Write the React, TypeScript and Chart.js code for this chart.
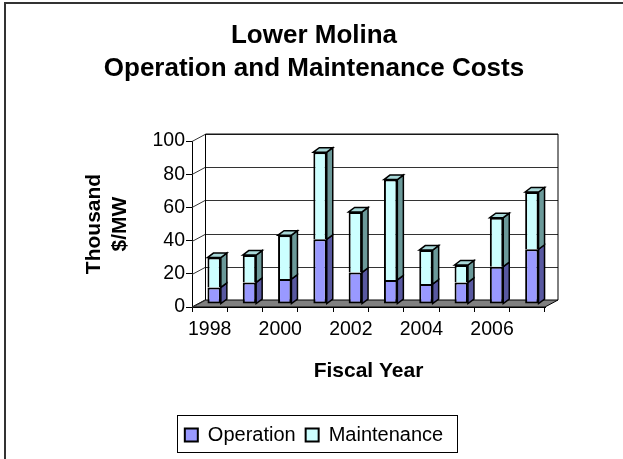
import React, { useEffect, useRef } from 'react';
import { Chart, registerables } from 'chart.js';

Chart.register(...registerables);

// ---- data ----
const years = ['1998', '1999', '2000', '2001', '2002', '2003', '2004', '2005', '2006', '2007'];
const operation = [10, 13, 15, 39, 19, 14.5, 12, 13, 22.5, 33];
const maintenance = [18, 16.5, 26.5, 52.5, 36.5, 60.5, 20.5, 10.5, 29.5, 34.5];
const titleLines = ['Lower Molina', 'Operation and Maintenance Costs'];
const yTitleLines = ['Thousand', '$/MW'];
const xTitle = 'Fiscal Year';
const seriesNames = ['Operation', 'Maintenance'];

// ---- styles ----
const FONT = '"Liberation Sans", Arial, sans-serif';
const WALL = { dx: 13, dy: -7 };
const BAR_SHIFT = { dx: 4.5, dy: -3 };
const BAR_DEPTH = { dx: 6, dy: -4.5 };
const FRONT = ['#9999FF', '#CCFFFF'];
const SIDE = ['#5858A0', '#6B9999'];
const TOP = ['#7777CC', '#A8D8D8'];

const threeD = {
  id: 'threeD',
  beforeDatasetsDraw(chart: any) {
    const { ctx, chartArea: a, scales } = chart;
    const y = scales.y;
    const top = y.getPixelForValue(y.max);
    const bot = y.getPixelForValue(0);
    ctx.save();
    // floor
    ctx.beginPath();
    ctx.moveTo(a.left, bot);
    ctx.lineTo(a.right, bot);
    ctx.lineTo(a.right + WALL.dx, bot + WALL.dy);
    ctx.lineTo(a.left + WALL.dx, bot + WALL.dy);
    ctx.closePath();
    ctx.fillStyle = '#808080';
    ctx.fill();
    ctx.strokeStyle = '#000';
    ctx.lineWidth = 1;
    ctx.stroke();
    // gridlines on side wall and back wall
    ctx.strokeStyle = '#333';
    ctx.lineWidth = 1;
    y.ticks.forEach((t: any) => {
      const py = Math.round(y.getPixelForValue(t.value)) + 0.5;
      ctx.beginPath();
      ctx.moveTo(a.left, py);
      ctx.lineTo(a.left + WALL.dx, py + WALL.dy);
      if (t.value !== 0) ctx.lineTo(a.right + WALL.dx, py + WALL.dy);
      ctx.stroke();
    });
    // back wall edges
    ctx.strokeStyle = '#000';
    ctx.beginPath();
    ctx.moveTo(a.left + WALL.dx + 0.5, bot + WALL.dy);
    ctx.lineTo(a.left + WALL.dx + 0.5, top + WALL.dy);
    ctx.lineTo(a.right + WALL.dx, top + WALL.dy);
    ctx.lineTo(a.right + WALL.dx, bot + WALL.dy);
    ctx.stroke();
    ctx.restore();

    // 3D faces of bars
    ctx.save();
    ctx.translate(BAR_SHIFT.dx, BAR_SHIFT.dy);
    const n = chart.data.datasets.length;
    for (let d = 0; d < n; d++) {
      const meta = chart.getDatasetMeta(d);
      meta.data.forEach((bar: any) => {
        const p = bar.getProps(['x', 'y', 'base', 'width'], true);
        const l = p.x - p.width / 2;
        const r = p.x + p.width / 2;
        const t = Math.min(p.y, p.base);
        const b = Math.max(p.y, p.base);
        ctx.lineWidth = 1.5;
        ctx.strokeStyle = '#000';
        ctx.beginPath();
        ctx.moveTo(r, t);
        ctx.lineTo(r + BAR_DEPTH.dx, t + BAR_DEPTH.dy);
        ctx.lineTo(r + BAR_DEPTH.dx, b + BAR_DEPTH.dy);
        ctx.lineTo(r, b);
        ctx.closePath();
        ctx.fillStyle = SIDE[d];
        ctx.fill();
        ctx.stroke();
        if (d === n - 1) {
          ctx.beginPath();
          ctx.moveTo(l, t);
          ctx.lineTo(l + BAR_DEPTH.dx, t + BAR_DEPTH.dy);
          ctx.lineTo(r + BAR_DEPTH.dx, t + BAR_DEPTH.dy);
          ctx.lineTo(r, t);
          ctx.closePath();
          ctx.fillStyle = TOP[d];
          ctx.fill();
          ctx.stroke();
        }
      });
    }
    // keep translation for the front faces drawn by Chart.js
  },
  afterDatasetsDraw(chart: any) {
    chart.ctx.restore();
  },
  afterDraw(chart: any) {
    const { ctx, legend } = chart;
    ctx.save();
    // legend frame
    if (legend && legend.legendHitBoxes && legend.legendHitBoxes.length) {
      const hb = legend.legendHitBoxes;
      const l = Math.min(...hb.map((h: any) => h.left));
      const r = Math.max(...hb.map((h: any) => h.left + h.width));
      const t = Math.min(...hb.map((h: any) => h.top));
      const b = Math.max(...hb.map((h: any) => h.top + h.height));
      ctx.strokeStyle = '#000';
      ctx.lineWidth = 1;
      ctx.strokeRect(Math.round(l - 8) + 0.5, Math.round(t - 10) + 0.5, Math.round(r - l + 22), Math.round(b - t + 17));
    }
    // chart frame
    ctx.strokeStyle = '#333';
    ctx.lineWidth = 2;
    ctx.strokeRect(5, 3, 1000, 1000);
    ctx.restore();
  },
};

export default function App() {
  const ref = useRef<HTMLCanvasElement | null>(null);
  useEffect(() => {
    if (!ref.current) return;
    const chart = new Chart(ref.current, {
      type: 'bar',
      data: {
        labels: years,
        datasets: [
          {
            label: seriesNames[0],
            data: operation,
            backgroundColor: FRONT[0],
            borderColor: '#000',
            borderWidth: 2,
            borderSkipped: false,
            barPercentage: 0.38,
            categoryPercentage: 1,
            clip: false as any,
          },
          {
            label: seriesNames[1],
            data: maintenance,
            backgroundColor: FRONT[1],
            borderColor: '#000',
            borderWidth: 2,
            borderSkipped: 'start',
            barPercentage: 0.38,
            categoryPercentage: 1,
            clip: false as any,
          },
        ],
      },
      options: {
        animation: false,
        responsive: false,
        maintainAspectRatio: false,
        devicePixelRatio: 1,
        layout: { padding: { top: 0, bottom: 4, left: 5, right: 0 } },
        plugins: {
          title: {
            display: true,
            text: titleLines,
            color: '#000',
            font: { family: FONT, size: 26, weight: 'bold', lineHeight: 1.27 },
            padding: { top: 19.5, bottom: 55.5 },
          },
          legend: {
            position: 'bottom',
            labels: {
              boxWidth: 13,
              boxHeight: 13,
              padding: 10,
              color: '#000',
              font: { family: FONT, size: 20 },
            },
          },
          tooltip: { enabled: false },
        },
        scales: {
          x: {
            stacked: true,
            offset: true,
            grid: { offset: true, drawOnChartArea: false, tickLength: 5, color: '#000' },
            border: { display: true, color: '#000', width: 1 },
            ticks: {
              autoSkip: false,
              maxRotation: 0,
              padding: 6,
              color: '#000',
              font: { family: FONT, size: 19.5 },
              callback: (_v: any, i: number) => (i % 2 === 0 ? years[i] : ''),
            },
            title: {
              display: true,
              text: xTitle,
              color: '#000',
              font: { family: FONT, size: 21, weight: 'bold' },
              padding: { top: 0, bottom: 31.4 },
            },
            afterFit: (s: any) => {
              s.height = 108;
            },
          },
          y: {
            stacked: true,
            min: 0,
            max: 100,
            grid: { drawOnChartArea: false, tickLength: 6, color: '#000' },
            border: { display: true, color: '#000', width: 1 },
            ticks: {
              stepSize: 20,
              padding: 1,
              color: '#000',
              font: { family: FONT, size: 19.5 },
            },
            title: {
              display: true,
              text: yTitleLines,
              color: '#000',
              font: { family: FONT, size: 21, weight: 'bold', lineHeight: 1.25 },
              padding: { top: 76.3, bottom: 0 },
            },
            afterFit: (s: any) => {
              s.width = 187;
            },
          },
          yRight: {
            position: 'right',
            display: true,
            grid: { display: false },
            border: { display: false },
            ticks: { display: false },
            afterFit: (s: any) => {
              s.width = 78;
            },
          },
        },
      } as any,
      plugins: [threeD],
    });
    return () => chart.destroy();
  }, []);
  return (
    <canvas
      ref={ref}
      width={623}
      height={459}
      style={{ position: 'fixed', left: 0, top: 0, width: 623, height: 459, background: '#fff' }}
    />
  );
}
